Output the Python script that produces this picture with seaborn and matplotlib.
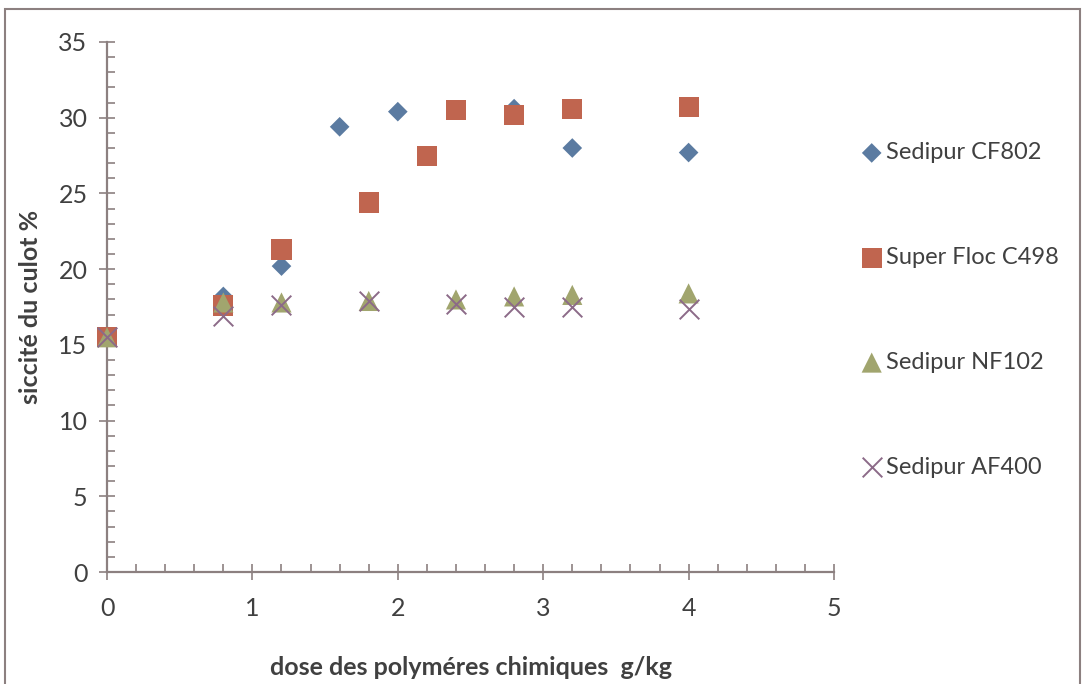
import matplotlib
matplotlib.use("Agg")
import matplotlib.pyplot as plt
from matplotlib.patches import Rectangle
from matplotlib.ticker import MultipleLocator
import seaborn as sns
import pandas as pd

# Polymer doses (g/kg) and cake dryness (%) per product
dose_cf802 = [0, 0.8, 1.2, 1.6, 2.0, 2.4, 2.8, 3.2, 4.0]
sicc_cf802 = [15.5, 18.2, 20.2, 29.4, 30.4, 30.5, 30.6, 28.0, 27.7]

dose_c498 = [0, 0.8, 1.2, 1.8, 2.2, 2.4, 2.8, 3.2, 4.0]
sicc_c498 = [15.5, 17.6, 21.3, 24.4, 27.5, 30.5, 30.2, 30.6, 30.7]

dose_nf102 = [0, 0.8, 1.2, 1.8, 2.4, 2.8, 3.2, 4.0]
sicc_nf102 = [15.5, 17.8, 17.8, 17.9, 18.0, 18.2, 18.3, 18.4]

dose_af400 = [0, 0.8, 1.2, 1.8, 2.4, 2.8, 3.2, 4.0]
sicc_af400 = [15.5, 16.9, 17.6, 17.9, 17.7, 17.5, 17.5, 17.4]

series_names = ["Sedipur CF802", "Super Floc C498", "Sedipur NF102", "Sedipur AF400"]

sns.set_theme(style="white")
plt.rcParams["font.family"] = ["Lato", "DejaVu Sans"]

text_col = "#404040"
axis_col = "#8C8080"

fig = plt.figure(figsize=(10.82, 6.84), dpi=100)
ax = fig.add_axes([0.0989, 0.1637, 0.6719, 0.7749])

styles = [
    (dose_cf802, sicc_cf802, "D", 100, "#5B7BA1", None),
    (dose_c498, sicc_c498, "s", 210, "#C0654F", None),
    (dose_nf102, sicc_nf102, "^", 210, "#A1A56E", None),
    (dose_af400, sicc_af400, "x", 200, "#8C6A88", 1.4),
]

for name, (xs, ys, mk, sz, col, lw) in zip(series_names, styles):
    df = pd.DataFrame({"dose": xs, "siccite": ys})
    kw = dict(linewidths=lw) if lw else dict(edgecolor="none")
    sns.scatterplot(data=df, x="dose", y="siccite", marker=mk, s=sz,
                    color=col, label=name, ax=ax, zorder=3, clip_on=False,
                    **kw)

ax.set_xlim(0, 5)
ax.set_ylim(0, 35)
ax.xaxis.set_major_locator(MultipleLocator(1))
ax.xaxis.set_minor_locator(MultipleLocator(0.2))
ax.yaxis.set_major_locator(MultipleLocator(5))
ax.yaxis.set_minor_locator(MultipleLocator(1))

for side in ["top", "right"]:
    ax.spines[side].set_visible(False)
for side in ["left", "bottom"]:
    ax.spines[side].set_color(axis_col)
    ax.spines[side].set_linewidth(1.6)
    ax.spines[side].set_zorder(2)

ax.tick_params(axis="both", which="major", direction="inout", length=12,
               width=1.2, color=axis_col, labelsize=18, labelcolor=text_col)
ax.tick_params(axis="both", which="minor", direction="in", length=6,
               width=1.2, color=axis_col)
ax.tick_params(axis="x", which="major", pad=12)
ax.tick_params(axis="y", which="major", pad=8)
ax.tick_params(axis="both", which="both", bottom=True, left=True)

ax.set_xlabel("dose des polyméres chimiques  g/kg", fontsize=18,
              fontweight="bold", color=text_col, labelpad=26)
ax.set_ylabel("siccité du culot %", fontsize=18, fontweight="bold",
              color=text_col, labelpad=12)

leg = ax.legend(loc="upper left", bbox_to_anchor=(0.786, 0.806),
                bbox_transform=fig.transFigure, frameon=False, fontsize=17,
                labelspacing=3.55, handletextpad=0.1, handlelength=1.0,
                borderaxespad=0)
for t in leg.get_texts():
    t.set_color(text_col)

# Chart area border
fig.patches.append(Rectangle((5 / 1082, -0.05), 1075 / 1082, 1.05 - 9 / 684,
                             transform=fig.transFigure, fill=False,
                             edgecolor="#8C8080", linewidth=1.5))

fig.savefig("out.png", dpi=100)
